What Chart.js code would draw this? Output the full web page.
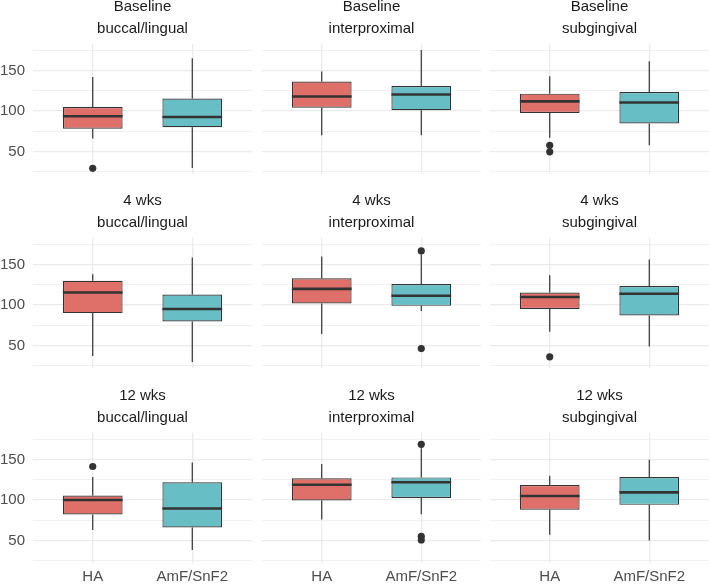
<!DOCTYPE html>
<html>
<head>
<meta charset="utf-8">
<script src="https://cdn.jsdelivr.net/npm/chart.js@4.4.1/dist/chart.umd.min.js"></script>
<style>
  html, body { margin: 0; padding: 0; background: #fff; }
  body { width: 709px; height: 584px; position: relative; overflow: hidden; }
  .panel { position: absolute; }
</style>
</head>
<body>
<script>
/*global Chart */

// DATA

const groups = ['HA', 'AmF/SnF2'];
const timepoints = ['Baseline', '4 wks', '12 wks'];
const sites = ['buccal/lingual', 'interproximal', 'subgingival'];
const yTicks = [50, 100, 150];
const yMinorTicks = [25, 75, 125, 175];

// one row per facet (Baseline, 4 wks, 12 wks x buccal/lingual, interproximal, subgingival)
// [lower whisker, Q1, median, Q3, upper whisker]
const haStats = [
  [66, 78, 93.5, 105, 142],
  [70, 104, 118, 136.5, 149],
  [67, 97.5, 112, 121.5, 143],
  [37, 90, 115.5, 130, 138],
  [64, 102, 120, 133, 160],
  [67, 95, 110, 115.5, 137],
  [63, 82, 100, 105.5, 128.5],
  [76, 99.5, 119, 127, 144.5],
  [57, 88, 105, 118.5, 130],
];
const amfStats = [
  [29.5, 80, 92.5, 115.5, 165.5],
  [70, 101, 120.5, 131, 175.5],
  [57.5, 84.5, 110.5, 123.5, 161.5],
  [29.5, 79.5, 95, 113, 159],
  [92.5, 99, 111.5, 126, 163],
  [48.5, 87, 114, 123.5, 156.5],
  [38, 66, 89.5, 122, 146.5],
  [82.5, 102.5, 122, 128, 164],
  [50, 94, 109.5, 128.5, 150],
];
const haOutliers = [[29], [], [57.5, 49.5], [], [], [35.8], [141.5], [], []];
const amfOutliers = [[], [], [], [], [167, 46], [], [], [169, 55, 50.5], []];

// LAYOUT

const fontFamily = "'Liberation Sans', Arial, Helvetica, sans-serif";
const colLeft = [33, 262, 490];
const rowTop = [44, 238, 433];
const panelW = 219;
const panelH = 130;
const stripH = 48;
const yAxisW = 33;
const xAxisH = 21;
const yMin = 22;
const yMax = 183;

const boxColors = ['#DF7069', '#68BEC5'];
const inkColor = '#333333';
const gridColor = '#EBEBEB';

// WHISKERS + MEDIANS

const boxPlugin = {
  id: 'boxWhiskers',
  beforeDatasetsDraw(chart, args, opts) {
    const ctx = chart.ctx;
    const y = chart.scales.y;
    const bars = chart.getDatasetMeta(1).data;
    ctx.save();
    ctx.strokeStyle = inkColor;
    ctx.lineWidth = 1.2;
    opts.stats.forEach(function (s, i) {
      const x = bars[i].x;
      ctx.beginPath();
      ctx.moveTo(x, y.getPixelForValue(s[0]));
      ctx.lineTo(x, y.getPixelForValue(s[1]));
      ctx.moveTo(x, y.getPixelForValue(s[3]));
      ctx.lineTo(x, y.getPixelForValue(s[4]));
      ctx.stroke();
    });
    ctx.restore();
  },
  afterDatasetsDraw(chart, args, opts) {
    const ctx = chart.ctx;
    const y = chart.scales.y;
    const bars = chart.getDatasetMeta(1).data;
    ctx.save();
    ctx.strokeStyle = inkColor;
    ctx.lineWidth = 2.6;
    opts.stats.forEach(function (s, i) {
      const bar = bars[i];
      const py = y.getPixelForValue(s[2]);
      ctx.beginPath();
      ctx.moveTo(bar.x - bar.width / 2, py);
      ctx.lineTo(bar.x + bar.width / 2, py);
      ctx.stroke();
    });
    ctx.restore();
  },
};

function makePanel(r, c) {
  const k = r * 3 + c;
  const stats = [haStats[k], amfStats[k]];
  const left = colLeft[c] - (c === 0 ? yAxisW : 0);
  const width = panelW + (c === 0 ? yAxisW : 0);
  const height = stripH + panelH + (r === 2 ? xAxisH : 0);

  const div = document.createElement('div');
  div.className = 'panel';
  div.style.left = left + 'px';
  div.style.top = (rowTop[r] - stripH) + 'px';
  div.style.width = width + 'px';
  div.style.height = height + 'px';
  const canvas = document.createElement('canvas');
  div.appendChild(canvas);
  document.body.appendChild(div);

  const outliers = [];
  haOutliers[k].forEach(function (v) { outliers.push({ x: 1, y: v }); });
  amfOutliers[k].forEach(function (v) { outliers.push({ x: 2, y: v }); });

  return new Chart(canvas, {
    type: 'bar',
    data: {
      datasets: [
        {
          type: 'scatter',
          data: outliers,
          pointRadius: 3.6,
          pointBackgroundColor: inkColor,
          pointBorderWidth: 0,
          pointBorderColor: inkColor,
          clip: false,
        },
        {
          data: stats.map(function (s, i) { return { x: i + 1, y: [s[1], s[3]] }; }),
          backgroundColor: boxColors,
          borderColor: inkColor,
          borderWidth: 1.2,
          borderSkipped: false,
          categoryPercentage: 0.8,
          barPercentage: 0.75,
        },
      ],
    },
    options: {
      responsive: true,
      maintainAspectRatio: false,
      animation: false,
      layout: { padding: 0, autoPadding: false },
      plugins: {
        legend: { display: false },
        tooltip: { enabled: false },
        title: {
          display: true,
          text: [timepoints[r], sites[c]],
          color: '#1A1A1A',
          font: { family: fontFamily, size: 15, weight: 'normal', lineHeight: '22px' },
          padding: { top: 0, bottom: 4 },
          fullSize: false,
        },
        boxWhiskers: { stats: stats },
      },
      scales: {
        x: {
          type: 'linear',
          min: 0.4,
          max: 2.6,
          bounds: 'data',
          offset: false,
          afterBuildTicks: function (s) {
            s.ticks = groups.map(function (g, i) { return { value: i + 1 }; });
          },
          afterFit: function (s) {
            s.height = r === 2 ? xAxisH : 0;
            s.paddingLeft = 0;
            s.paddingRight = 0;
          },
          grid: { color: gridColor, lineWidth: 1.3, drawTicks: false, offset: false },
          border: { display: false },
          ticks: {
            display: r === 2,
            callback: function (v, i) { return groups[i]; },
            color: '#4D4D4D',
            font: { family: fontFamily, size: 15 },
            padding: 5,
            maxRotation: 0,
            autoSkip: false,
          },
        },
        y: {
          min: yMin,
          max: yMax,
          bounds: 'data',
          afterBuildTicks: function (s) {
            s.ticks = yTicks.concat(yMinorTicks).sort(function (a, b) { return a - b; })
              .map(function (v) { return { value: v }; });
          },
          afterFit: function (s) {
            s.width = c === 0 ? yAxisW : 0;
            s.paddingTop = 0;
            s.paddingBottom = 0;
          },
          grid: {
            color: gridColor,
            lineWidth: function (ctx) {
              return ctx.tick && yTicks.includes(ctx.tick.value) ? 1.3 : 0.7;
            },
            drawTicks: false,
          },
          border: { display: false },
          ticks: {
            display: c === 0,
            callback: function (v) { return yTicks.includes(v) ? String(v) : ''; },
            color: '#4D4D4D',
            font: { family: fontFamily, size: 15 },
            padding: 8,
          },
        },
      },
    },
    plugins: [boxPlugin],
  });
}

for (let r = 0; r < 3; r++) {
  for (let c = 0; c < 3; c++) {
    makePanel(r, c);
  }
}
</script>
</body>
</html>
